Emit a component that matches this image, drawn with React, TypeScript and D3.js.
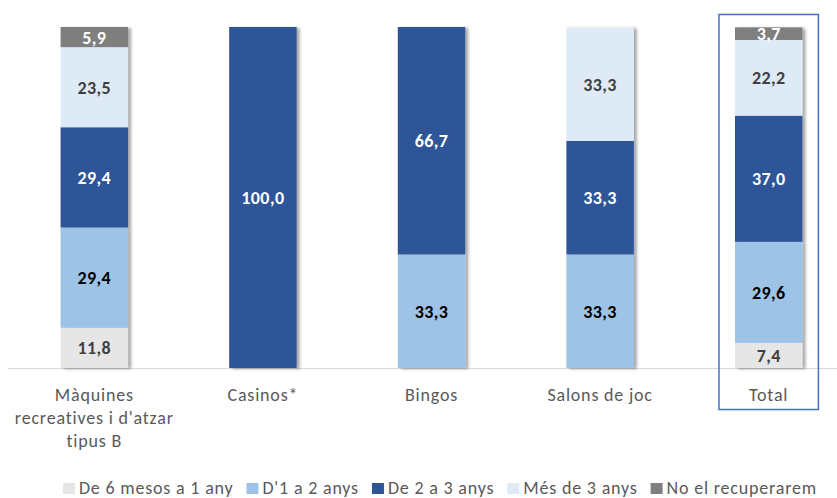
import React, { useEffect, useRef } from 'react'
import * as d3 from 'd3'

// categories (x axis), one label line per entry
const categories = ['Màquines', 'Casinos*', 'Bingos', 'Salons de joc', 'Total']
const categoryLines = [
  ['Màquines', "recreatives i d'atzar", 'tipus B'],
  ['Casinos*'],
  ['Bingos'],
  ['Salons de joc'],
  ['Total'],
]

// series, bottom to top
const seriesNames = ['De 6 mesos a 1 any', "D'1 a 2 anys", 'De 2 a 3 anys', 'Més de 3 anys', 'No el recuperarem']
const sixMonths = [11.8, 0, 0, 0, 7.4]
const oneToTwo = [29.4, 0, 33.3, 33.3, 29.6]
const twoToThree = [29.4, 100, 66.7, 33.3, 37.0]
const moreThanThree = [23.5, 0, 0, 33.3, 22.2]
const never = [5.9, 0, 0, 0, 3.7]

const colors = ['#E7E6E6', '#9DC3E6', '#2F5597', '#DEEBF7', '#7F7F7F']
const labelColors = ['#404040', '#000000', '#FFFFFF', '#404040', '#FFFFFF']

const W = 837
const H = 498
const FONT = 'Carlito, Calibri, Lato, sans-serif'

export default function App() {
  const ref = useRef<SVGSVGElement | null>(null)

  useEffect(() => {
    const svg = d3.select(ref.current)
    svg.selectAll('*').remove()

    const rows = categories.map((c, i) => ({
      cat: c,
      s0: sixMonths[i],
      s1: oneToTwo[i],
      s2: twoToThree[i],
      s3: moreThanThree[i],
      s4: never[i],
    }))
    const keys = ['s0', 's1', 's2', 's3', 's4']
    const stacked = d3.stack<any>().keys(keys)(rows)

    const x = d3.scaleBand().domain(categories).range([10, 853]).paddingInner(0.6).paddingOuter(0.3)
    const y = d3.scaleLinear().domain([0, 100]).range([368, 27])

    const defs = svg.append('defs')
    const f = defs.append('filter').attr('id', 'shadow').attr('x', '-20%').attr('y', '-5%').attr('width', '150%').attr('height', '110%')
    f.append('feDropShadow').attr('dx', 3).attr('dy', 1).attr('stdDeviation', 1.6)
      .attr('flood-color', '#000').attr('flood-opacity', 0.35)

    // axis line
    svg.append('line').attr('x1', 8).attr('x2', W).attr('y1', 368.5).attr('y2', 368.5)
      .attr('stroke', '#D9D9D9').attr('stroke-width', 1)

    // bars, one group per category so the shadow falls on the whole column
    const barG = svg.append('g')
    categories.forEach((c, ci) => {
      const g = barG.append('g').attr('filter', 'url(#shadow)')
      stacked.forEach((layer, li) => {
        const d = layer[ci]
        if (d[1] - d[0] <= 0) return
        g.append('rect')
          .attr('x', x(c)!)
          .attr('width', x.bandwidth())
          .attr('y', y(d[1]))
          .attr('height', y(d[0]) - y(d[1]))
          .attr('fill', colors[li])
      })
    })

    // value labels
    stacked.forEach((layer, li) => {
      layer.forEach((d, ci) => {
        const v = d[1] - d[0]
        if (v <= 0) return
        svg.append('text')
          .attr('x', x(categories[ci])! + x.bandwidth() / 2)
          .attr('y', (y(d[0]) + y(d[1])) / 2)
          .attr('dy', '0.36em')
          .attr('text-anchor', 'middle')
          .attr('font-family', FONT)
          .attr('font-weight', 'bold')
          .attr('font-size', 18)
          .attr('letter-spacing', 0.4)
          .attr('fill', labelColors[li])
          .text(d3.format('.1f')(v).replace('.', ','))
      })
    })

    // category labels
    categories.forEach((c, ci) => {
      const t = svg.append('text')
        .attr('x', x(c)! + x.bandwidth() / 2)
        .attr('y', 401)
        .attr('text-anchor', 'middle')
        .attr('font-family', FONT)
        .attr('font-size', 18)
        .attr('letter-spacing', 0.8)
        .attr('fill', '#595959')
      categoryLines[ci].forEach((line, k) => {
        t.append('tspan').attr('x', x(c)! + x.bandwidth() / 2).attr('dy', k === 0 ? 0 : 23).text(line)
      })
    })

    // box round the Total column
    const tx = x('Total')!
    svg.append('rect')
      .attr('x', tx - 16).attr('y', 14.5)
      .attr('width', x.bandwidth() + 32).attr('height', 395)
      .attr('fill', 'none').attr('stroke', '#4472C4').attr('stroke-width', 1.5)

    // legend
    const leg = svg.append('g')
    let lx = 63
    seriesNames.forEach((name, i) => {
      leg.append('rect').attr('x', lx).attr('y', 483).attr('width', 12).attr('height', 11).attr('fill', colors[i])
      const t = leg.append('text')
        .attr('x', lx + 16).attr('y', 493.5)
        .attr('font-family', FONT).attr('font-size', 18).attr('letter-spacing', 0.8).attr('fill', '#595959')
        .text(name)
      const w = (t.node() as SVGTextElement).getComputedTextLength()
      lx += 16 + w + 13
    })
  }, [])

  return <svg ref={ref} width={W} height={H} style={{ position: 'absolute', left: 0, top: 0 }} />
}
